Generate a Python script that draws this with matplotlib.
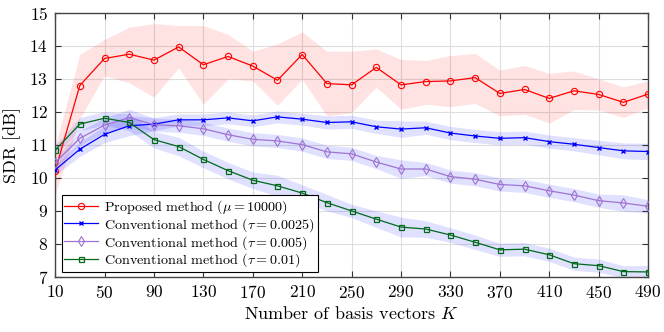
import matplotlib

matplotlib.use("Agg")
import matplotlib.pyplot as plt
import numpy as np

plt.rcParams["font.family"] = "serif"
plt.rcParams["font.serif"] = ["cmr10"]
plt.rcParams["mathtext.fontset"] = "cm"
plt.rcParams["axes.formatter.use_mathtext"] = True
plt.rcParams["axes.unicode_minus"] = False

K = list(range(10, 491, 20))

sdr_proposed = [10.2, 12.8, 13.62, 13.75, 13.57, 13.97, 13.43, 13.68, 13.39, 12.96,
                13.74, 12.86, 12.82, 13.35, 12.82, 12.92, 12.94, 13.04, 12.56, 12.68,
                12.41, 12.64, 12.53, 12.29, 12.54]
proposed_hi = [10.95, 13.75, 14.2, 14.57, 14.68, 14.62, 14.62, 14.35, 13.84, 14.06,
               14.43, 13.84, 13.84, 13.91, 13.59, 13.56, 13.71, 13.77, 13.27, 13.41,
               13.17, 13.24, 13.0, 12.76, 12.94]
proposed_lo = [9.5, 11.8, 13.1, 12.88, 12.45, 13.34, 12.23, 13.0, 12.94, 12.2,
               12.99, 11.88, 11.98, 12.75, 12.08, 12.23, 12.16, 12.26, 11.88, 11.93,
               11.66, 12.07, 12.06, 11.83, 12.13]

sdr_tau0025 = [10.24, 10.87, 11.32, 11.58, 11.63, 11.76, 11.76, 11.82, 11.73, 11.85,
               11.78, 11.68, 11.70, 11.55, 11.48, 11.52, 11.36, 11.27, 11.20, 11.22,
               11.10, 11.02, 10.92, 10.82, 10.80]
spread_tau0025 = [0.15, 0.22, 0.25, 0.3, 0.2, 0.18, 0.18, 0.18, 0.18, 0.18,
                  0.18, 0.2, 0.2, 0.2, 0.25, 0.2, 0.2, 0.2, 0.2, 0.2,
                  0.2, 0.2, 0.22, 0.24, 0.25]

sdr_tau005 = [10.46, 11.20, 11.60, 11.83, 11.61, 11.58, 11.49, 11.31, 11.17, 11.12,
              11.01, 10.79, 10.73, 10.48, 10.27, 10.27, 10.04, 9.96, 9.80, 9.76,
              9.61, 9.48, 9.31, 9.24, 9.14]
spread_tau005 = [0.15, 0.22, 0.22, 0.25, 0.2, 0.2, 0.2, 0.2, 0.2, 0.2,
                 0.2, 0.2, 0.2, 0.2, 0.28, 0.2, 0.2, 0.2, 0.2, 0.2,
                 0.2, 0.2, 0.2, 0.25, 0.2]

sdr_tau01 = [10.84, 11.63, 11.81, 11.68, 11.16, 10.95, 10.56, 10.22, 9.93, 9.76,
             9.54, 9.25, 9.0, 8.75, 8.51, 8.45, 8.27, 8.05, 7.82, 7.84,
             7.67, 7.40, 7.34, 7.16, 7.15]
spread_tau01 = [0.15, 0.2, 0.2, 0.25, 0.25, 0.28, 0.25, 0.25, 0.25, 0.32,
                0.25, 0.25, 0.2, 0.25, 0.3, 0.25, 0.22, 0.22, 0.2, 0.2,
                0.2, 0.2, 0.2, 0.18, 0.2]

x_ticks = list(range(10, 491, 40))
y_ticks = list(range(7, 16))

BAND_RED = "#ff0000"
BAND_BLUE = "#0000ff"

fig = plt.figure(figsize=(6.64, 3.32), dpi=100)
ax = fig.add_axes([0.083, 0.166, 0.893, 0.795])

k = np.array(K)
ax.fill_between(k, proposed_lo, proposed_hi, color=BAND_RED, alpha=0.11, lw=0, zorder=1)
for mean, spread in [(sdr_tau0025, spread_tau0025), (sdr_tau005, spread_tau005), (sdr_tau01, spread_tau01)]:
    m = np.array(mean)
    s = np.array(spread)
    ax.fill_between(k, m - s, m + s, color=BAND_BLUE, alpha=0.12, lw=0, zorder=1)

ax.plot(k, sdr_proposed, color="#ff0000", lw=0.9, marker="o", ms=4.5, mfc="none", mew=0.8,
        label=r"Proposed method ($\mu = 10000$)", zorder=4)
ax.plot(k, sdr_tau0025, color="#0000ff", lw=0.9, marker="x", ms=3.2, mew=1.0,
        label=r"Conventional method ($\tau = 0.0025$)", zorder=4)
ax.plot(k, sdr_tau005, color="#9f73d2", lw=0.9, marker="d", ms=5, mfc="none", mew=0.8,
        label=r"Conventional method ($\tau = 0.005$)", zorder=4)
ax.plot(k, sdr_tau01, color="#006a1a", lw=0.9, marker="s", ms=3.6, mfc="none", mew=0.9,
        label=r"Conventional method ($\tau = 0.01$)", zorder=4)

ax.set_xlim(10, 490)
ax.set_ylim(7, 15)
ax.set_xticks(x_ticks)
ax.set_yticks(y_ticks)
ax.tick_params(direction="in", top=True, right=True, length=4, width=0.8,
               labelsize=12.5, color="#333333", pad=5)
ax.grid(True, color="#dddddd", lw=0.8, zorder=0)
ax.set_axisbelow(True)
for sp in ax.spines.values():
    sp.set_color("#444444")
    sp.set_linewidth(1.0)

ax.set_xlabel(r"Number of basis vectors $K$", fontsize=13, labelpad=3)
ax.set_ylabel("SDR [dB]", fontsize=13, labelpad=6)

leg = ax.legend(loc="lower left", bbox_to_anchor=(0.011, 0.018), fontsize=10.2,
                frameon=True, fancybox=False, edgecolor="black", framealpha=1,
                handlelength=2.4, handletextpad=0.4, borderpad=0.2,
                labelspacing=0.0, borderaxespad=0.0)
leg.get_frame().set_linewidth(0.8)

fig.savefig("out.png", dpi=100)
